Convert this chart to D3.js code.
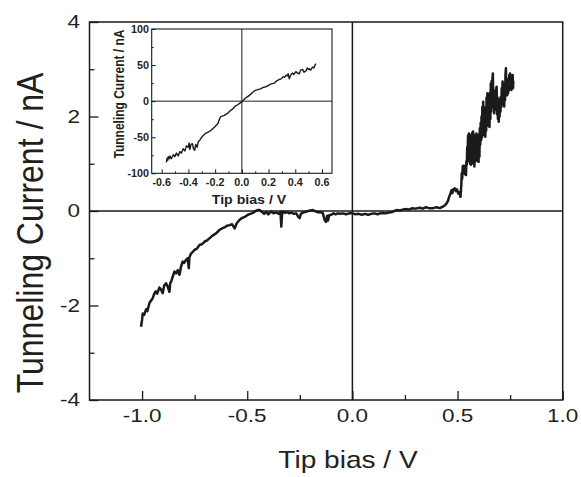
<!DOCTYPE html>
<html><head><meta charset="utf-8">
<script src="https://cdn.jsdelivr.net/npm/d3@7"></script>
<style>body{margin:0;background:#fff}svg{display:block}</style>
</head><body>
<svg id="c" width="581" height="477"></svg>
<script>
// ---------- DATA ----------
const mainXTicks = [-1.0, -0.5, 0.0, 0.5, 1.0];
const mainXMinor = [-0.75, -0.25, 0.25, 0.75];
const mainYTicks = [-4, -2, 0, 2, 4];
const mainYMinor = [-3, -1, 1, 3];
const insetXTicks = [-0.6, -0.4, -0.2, 0.0, 0.2, 0.4, 0.6];
const insetXMinor = [-0.5, -0.3, -0.1, 0.1, 0.3, 0.5];
const insetYTicks = [-100, -50, 0, 50, 100];
const insetYMinor = [-75, -25, 25, 75];
const mainXTitle = "Tip bias / V";
const mainYTitle = "Tunneling Current / nA";

// main I-V curve [bias V, current nA]
const mainCurve = [
[-1.005,-2.45],[-1.0,-2.30],[-0.997,-2.17],[-0.99,-2.20],[-0.981,-2.08],[-0.975,-2.12],[-0.965,-1.95],[-0.958,-1.90],
[-0.95,-1.85],[-0.941,-1.74],[-0.935,-1.70],[-0.928,-1.75],[-0.918,-1.62],[-0.91,-1.66],[-0.902,-1.74],[-0.895,-1.58],
[-0.886,-1.53],[-0.878,-1.60],[-0.870,-1.71],[-0.866,-1.52],[-0.862,-1.50],[-0.855,-1.40],[-0.846,-1.28],[-0.838,-1.32],
[-0.830,-1.25],[-0.822,-1.35],[-0.815,-1.18],[-0.807,-1.07],[-0.80,-1.10],[-0.792,-1.04],[-0.783,-1.00],[-0.778,-1.21],
[-0.775,-0.98],[-0.767,-0.90],[-0.758,-0.86],[-0.75,-0.82],[-0.74,-0.80],[-0.727,-0.72],[-0.715,-0.70],[-0.70,-0.64],
[-0.69,-0.62],[-0.68,-0.58],[-0.665,-0.52],[-0.65,-0.48],[-0.64,-0.44],[-0.632,-0.40],[-0.62,-0.37],[-0.605,-0.34],
[-0.595,-0.31],[-0.584,-0.30],[-0.572,-0.28],[-0.56,-0.37],[-0.55,-0.26],[-0.537,-0.19],[-0.525,-0.15],[-0.51,-0.12],
[-0.497,-0.08],[-0.485,-0.06],[-0.473,-0.04],[-0.46,0.0],[-0.45,0.02],[-0.441,0.02],
[-0.43,-0.02],[-0.42,-0.06],[-0.41,-0.02],[-0.40,-0.07],[-0.394,-0.04],[-0.385,-0.01],[-0.375,-0.05],[-0.362,-0.03],
[-0.35,-0.06],[-0.342,-0.02],[-0.338,-0.33],[-0.334,-0.03],[-0.33,-0.01],[-0.32,-0.04],[-0.31,-0.02],[-0.30,-0.05],
[-0.29,-0.03],[-0.28,-0.06],[-0.267,-0.05],[-0.258,-0.12],[-0.251,-0.15],[-0.245,-0.06],[-0.237,-0.04],[-0.225,-0.02],
[-0.21,0.0],[-0.2,0.01],[-0.188,0.02],[-0.175,-0.01],[-0.16,-0.03],[-0.15,-0.02],[-0.14,-0.05],[-0.132,-0.19],
[-0.125,-0.23],[-0.12,-0.10],[-0.116,-0.20],[-0.11,-0.09],[-0.10,-0.08],[-0.09,-0.05],[-0.08,-0.07],[-0.07,-0.05],
[-0.06,-0.06],[-0.045,-0.05],[-0.03,-0.07],[-0.015,-0.05],[0.0,-0.05],[0.015,-0.07],[0.03,-0.06],[0.045,-0.08],
[0.06,-0.06],[0.075,-0.08],[0.09,-0.06],[0.105,-0.05],[0.12,-0.07],[0.13,-0.05],[0.145,-0.04],[0.16,-0.05],
[0.175,-0.03],[0.19,-0.02],[0.20,0.0],[0.21,0.02],[0.225,0.01],[0.24,0.03],[0.257,0.04],[0.27,0.03],
[0.285,0.06],[0.30,0.05],[0.32,0.07],[0.335,0.05],[0.35,0.08],[0.365,0.06],[0.384,0.06],[0.40,0.08],
[0.416,0.06],[0.43,0.09],[0.44,0.12],
[0.448,0.16],[0.455,0.22],[0.46,0.30],[0.466,0.36],[0.471,0.44],[0.476,0.38],[0.48,0.46],[0.487,0.48],
[0.492,0.42],[0.497,0.46],[0.503,0.37],[0.508,0.40],[0.514,0.30],
[0.518,0.55],[0.52,0.80],[0.522,0.68],[0.525,0.95],[0.527,0.84],[0.53,0.96],[0.532,0.80],[0.534,0.92],
[0.536,0.78],[0.538,0.90],[0.54,0.76],[0.542,1.05],[0.544,0.98],[0.546,1.35],[0.548,1.22],[0.55,1.60],
[0.552,1.10],[0.554,1.64],[0.556,1.05],[0.558,1.58],[0.56,1.00],[0.562,1.50],[0.564,0.98],[0.566,1.62],
[0.568,1.15],[0.57,1.66],[0.572,1.20],[0.574,1.68],[0.576,1.00],[0.578,1.45],[0.58,0.94],[0.582,1.55],
[0.584,1.05],[0.586,1.62],[0.588,1.12],[0.59,1.64],[0.592,1.20],[0.594,1.60],[0.596,1.06],[0.598,1.50],
[0.6,1.04],[0.602,1.62],[0.604,1.15],[0.606,1.75],[0.608,1.40],[0.61,1.86],[0.612,1.50],[0.614,2.00],
[0.616,1.55],[0.618,2.20],[0.62,1.70],[0.622,2.31],[0.624,1.75],[0.626,2.10],[0.628,1.60],[0.63,2.05],
[0.632,1.57],[0.634,2.20],[0.636,1.70],[0.638,2.40],[0.64,1.85],[0.642,2.49],[0.644,1.90],[0.646,2.35],
[0.648,1.80],[0.65,2.30],[0.652,1.78],[0.654,2.50],[0.656,1.95],[0.658,2.70],[0.66,2.10],[0.662,2.75],
[0.664,2.20],[0.666,2.80],[0.668,2.91],[0.67,2.30],[0.672,2.55],[0.674,2.07],[0.676,2.45],[0.678,2.15],
[0.68,2.55],[0.682,2.20],[0.684,2.60],[0.686,2.63],[0.688,2.05],[0.69,2.40],[0.692,1.95],[0.694,2.30],
[0.696,1.89],[0.698,2.25],[0.7,2.00],[0.702,2.38],[0.704,2.10],[0.706,2.42],[0.708,2.20],[0.71,2.60],
[0.712,2.30],[0.714,2.74],[0.716,2.30],[0.718,2.60],[0.72,2.25],[0.722,2.21],[0.724,2.70],[0.726,2.35],
[0.728,2.90],[0.73,3.02],[0.732,2.50],[0.734,2.80],[0.736,2.45],[0.738,2.70],[0.74,2.49],[0.742,2.80],
[0.744,2.55],[0.746,2.88],[0.748,2.60],[0.75,2.91],[0.752,2.58],[0.754,2.80],[0.756,2.56],[0.758,2.85],
[0.76,2.62],[0.762,2.88],[0.764,2.60],[0.765,2.75]
];

// inset I-V curve [bias V, current nA]
const insetCurve = [
[-0.565,-85],[-0.56,-79],[-0.555,-82],[-0.551,-77],[-0.545,-80],[-0.538,-76],[-0.53,-80],[-0.52,-77],
[-0.512,-74],[-0.502,-77],[-0.49,-72],[-0.477,-76],[-0.465,-70],[-0.452,-72],[-0.44,-66],[-0.427,-69],
[-0.415,-62],[-0.402,-64],[-0.395,-58],[-0.39,-67],[-0.38,-60],[-0.37,-59],[-0.362,-66],[-0.353,-68],
[-0.345,-60],[-0.335,-64],[-0.328,-57],[-0.315,-54],[-0.30,-50],[-0.291,-48],[-0.275,-45],[-0.265,-44],
[-0.253,-43],[-0.235,-41],[-0.216,-38],[-0.2,-35],[-0.19,-33],[-0.179,-31],[-0.17,-26],[-0.16,-22],
[-0.154,-21],[-0.135,-20],[-0.116,-18],[-0.1,-16],[-0.092,-14],[-0.07,-11],[-0.05,-7],[-0.03,-5],
[-0.01,-2],[0.0,-1],[0.02,3],[0.04,6],[0.057,8],[0.08,12],[0.1,15],[0.119,16],
[0.14,17],[0.16,19],[0.182,20],[0.2,22],[0.22,24],[0.244,25],[0.26,28],[0.28,30],
[0.294,31],[0.31,34],[0.32,33],[0.331,36],[0.34,35],[0.347,38],[0.355,31],[0.365,36],
[0.38,39],[0.39,37],[0.405,41],[0.415,39],[0.43,38],[0.44,43],[0.455,44],[0.465,40],
[0.48,42],[0.49,46],[0.5,44],[0.505,45],[0.515,43],[0.529,47],[0.54,46],[0.548,50],[0.554,52]
];

// ---------- DRAW ----------
const svg = d3.select("#c");
const FONT = "'Liberation Sans', Arial, Helvetica, sans-serif";
const TXT = "#231f20";
const INK = "#1a1a1a";
const fmt1 = d => d3.format(".1f")(d).replace("\u2212", "-");
const fmt0 = d => d3.format("d")(d).replace("\u2212", "-");

function label(g, str, px, py, o) {
  const t = g.append("text")
    .attr("transform", `translate(${px},${py}) scale(${o.sx || 1},1)` + (o.rot ? ` rotate(${o.rot})` : ""))
    .attr("text-anchor", o.anchor || "middle")
    .attr("font-family", FONT)
    .attr("font-size", o.size)
    .attr("font-weight", o.weight || "normal")
    .attr("fill", TXT)
    .text(str);
  if (o.dy) t.attr("dy", o.dy);
  return t;
}

// main scales
const x = d3.scaleLinear().domain([-1.25, 1.0]).range([89.5, 562.7]);
const y = d3.scaleLinear().domain([-4, 4]).range([400, 22]);

const gm = svg.append("g");
gm.append("line").attr("x1", x.range()[0]).attr("x2", x.range()[1]).attr("y1", y(0)).attr("y2", y(0))
  .attr("stroke", INK).attr("stroke-width", 1.5);
gm.append("line").attr("x1", x(0)).attr("x2", x(0)).attr("y1", y.range()[0]).attr("y2", y.range()[1])
  .attr("stroke", INK).attr("stroke-width", 1.5);

function axisTicks(g, axis) {
  g.call(axis);
  g.select(".domain").remove();
  g.selectAll("text").remove();
  g.selectAll("line").attr("stroke", INK).attr("stroke-width", 1.3);
}
axisTicks(gm.append("g").attr("transform", `translate(0,${y.range()[0]})`),
  d3.axisBottom(x).tickValues(mainXTicks).tickSize(-9));
axisTicks(gm.append("g").attr("transform", `translate(0,${y.range()[0]})`),
  d3.axisBottom(x).tickValues(mainXMinor).tickSize(-5));
axisTicks(gm.append("g").attr("transform", `translate(${x.range()[0]},0)`),
  d3.axisLeft(y).tickValues(mainYTicks).tickSize(-9));
axisTicks(gm.append("g").attr("transform", `translate(${x.range()[0]},0)`),
  d3.axisLeft(y).tickValues(mainYMinor).tickSize(-5));

gm.append("rect").attr("x", x.range()[0]).attr("y", y.range()[1])
  .attr("width", x.range()[1] - x.range()[0]).attr("height", y.range()[0] - y.range()[1])
  .attr("fill", "none").attr("stroke", INK).attr("stroke-width", 1.5);

mainXTicks.forEach(v => label(gm, fmt1(v), x(v), 421.5, {size: 18, sx: 1.25}));
mainYTicks.forEach(v => label(gm, fmt0(v), 80, y(v), {size: 18, sx: 1.25, anchor: "end", dy: "0.35em"}));
label(gm, mainXTitle, 348, 468, {size: 24, sx: 1.17});
label(gm, mainYTitle, 43, 233, {size: 32, sx: 1.18, rot: -90});

const line = d3.line().x(d => x(d[0])).y(d => y(d[1]));
gm.append("path").datum(mainCurve).attr("d", line)
  .attr("fill", "none").attr("stroke", INK).attr("stroke-width", 2.5).attr("stroke-linejoin", "round");

// ---------- INSET ----------
const xi = d3.scaleLinear().domain([-0.675, 0.675]).range([151.7, 332]);
const yi = d3.scaleLinear().domain([-100, 100]).range([173.3, 29]);
const gi = svg.append("g");
gi.append("rect").attr("x", xi.range()[0]).attr("y", yi.range()[1])
  .attr("width", xi.range()[1] - xi.range()[0]).attr("height", yi.range()[0] - yi.range()[1])
  .attr("fill", "#fff").attr("stroke", INK).attr("stroke-width", 1.1);
gi.append("line").attr("x1", xi.range()[0]).attr("x2", xi.range()[1]).attr("y1", yi(0)).attr("y2", yi(0))
  .attr("stroke", INK).attr("stroke-width", 1);
gi.append("line").attr("x1", xi(0)).attr("x2", xi(0)).attr("y1", yi.range()[0]).attr("y2", yi.range()[1])
  .attr("stroke", INK).attr("stroke-width", 1);
function axisTicksI(g, axis) {
  g.call(axis);
  g.select(".domain").remove();
  g.selectAll("text").remove();
  g.selectAll("line").attr("stroke", INK).attr("stroke-width", 1);
}
axisTicksI(gi.append("g").attr("transform", `translate(0,${yi.range()[0]})`),
  d3.axisBottom(xi).tickValues(insetXTicks).tickSize(-4));
axisTicksI(gi.append("g").attr("transform", `translate(0,${yi.range()[0]})`),
  d3.axisBottom(xi).tickValues(insetXMinor).tickSize(-2));
axisTicksI(gi.append("g").attr("transform", `translate(${xi.range()[0]},0)`),
  d3.axisLeft(yi).tickValues(insetYTicks).tickSize(-4));
axisTicksI(gi.append("g").attr("transform", `translate(${xi.range()[0]},0)`),
  d3.axisLeft(yi).tickValues(insetYMinor).tickSize(-2));

insetXTicks.forEach(v => label(gi, fmt1(v), xi(v), 186, {size: 10, sx: 1.08, weight: "bold"}));
insetYTicks.forEach(v => label(gi, fmt0(v), 149, yi(v), {size: 10, sx: 1.08, weight: "bold", anchor: "end", dy: "0.35em"}));
label(gi, mainXTitle, 249, 204, {size: 12, sx: 1.18, weight: "bold"});
label(gi, mainYTitle, 123.5, 94, {size: 12, sx: 1.15, weight: "bold", rot: -90});

const linei = d3.line().x(d => xi(d[0])).y(d => yi(d[1]));
gi.append("path").datum(insetCurve).attr("d", linei)
  .attr("fill", "none").attr("stroke", INK).attr("stroke-width", 1.4).attr("stroke-linejoin", "round");
</script>
</body></html>
